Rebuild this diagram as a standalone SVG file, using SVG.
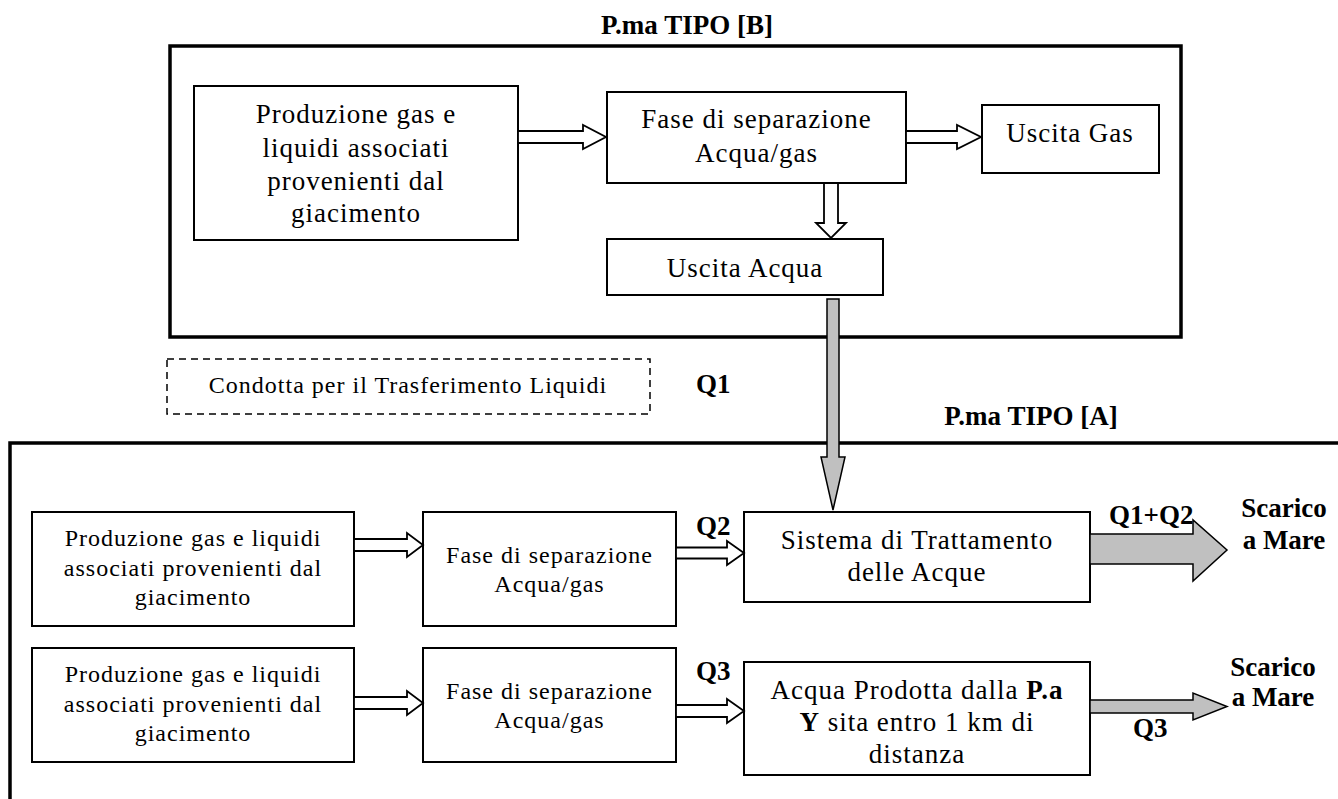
<svg xmlns="http://www.w3.org/2000/svg" width="1338" height="799" viewBox="0 0 1338 799">
<style>
.frame{fill:none;stroke:#000;stroke-width:3.5}
.box{fill:#fff;stroke:#000;stroke-width:2}
.dash{fill:#fff;stroke:#000;stroke-width:1.5;stroke-dasharray:7 5}
.hollow{fill:#fff;stroke:#000;stroke-width:1.8;stroke-linejoin:miter}
.gray{fill:#c0c0c0;stroke:#000;stroke-width:1.5;stroke-linejoin:miter}
.s{font-family:"Liberation Serif","Times New Roman",serif;font-size:24px;letter-spacing:1px;text-anchor:middle;fill:#000}
.b{font-family:"Liberation Serif","Times New Roman",serif;font-size:27px;letter-spacing:1px;text-anchor:middle;fill:#000}
.l{font-family:"Liberation Serif","Times New Roman",serif;font-size:27px;font-weight:bold;fill:#000}
.bold{font-weight:bold}
</style>
<rect width="1338" height="799" fill="#fff"/>

<g id="platform-B">
<rect class="frame" x="170" y="46" width="1011" height="291"/>
<text class="l" x="687" y="34" text-anchor="middle">P.ma TIPO [B]</text>
</g>

<g id="platform-A">
<path class="frame" d="M10,801 V443 H1340"/>
<text class="l" x="1031" y="425" text-anchor="middle">P.ma TIPO [A]</text>
</g>

<g id="b-produzione">
<rect class="box" x="194" y="86" width="324" height="154"/>
<text class="b" x="356" y="123">Produzione gas e</text>
<text class="b" x="356" y="157">liquidi associati</text>
<text class="b" x="356" y="190">provenienti dal</text>
<text class="b" x="356" y="222">giacimento</text>
</g>

<g id="b-separazione">
<rect class="box" x="607" y="92" width="299" height="91"/>
<text class="b" x="756.5" y="128">Fase di separazione</text>
<text class="b" x="756.5" y="162">Acqua/gas</text>
</g>

<g id="b-uscita-gas">
<rect class="box" x="982" y="105" width="177" height="68"/>
<text class="b" x="1070" y="142">Uscita Gas</text>
</g>

<g id="b-uscita-acqua">
<rect class="box" x="607" y="239" width="276" height="56"/>
<text class="b" x="745" y="277">Uscita Acqua</text>
</g>

<g id="condotta">
<rect class="dash" x="167" y="359" width="483" height="55"/>
<text class="s" x="408" y="393">Condotta per il Trasferimento Liquidi</text>
</g>

<g id="a1-produzione">
<rect class="box" x="32" y="512" width="322" height="114"/>
<text class="s" x="193" y="546">Produzione gas e liquidi</text>
<text class="s" x="193" y="576">associati provenienti dal</text>
<text class="s" x="193" y="605">giacimento</text>
</g>

<g id="a1-separazione">
<rect class="box" x="423" y="512" width="253" height="114"/>
<text class="s" x="549.5" y="563">Fase di separazione</text>
<text class="s" x="549.5" y="592">Acqua/gas</text>
</g>

<g id="a-trattamento">
<rect class="box" x="744" y="512" width="346" height="90"/>
<text class="b" x="917" y="549">Sistema di Trattamento</text>
<text class="b" x="917" y="581">delle Acque</text>
</g>

<g id="a2-produzione">
<rect class="box" x="32" y="648" width="322" height="114"/>
<text class="s" x="193" y="682">Produzione gas e liquidi</text>
<text class="s" x="193" y="712">associati provenienti dal</text>
<text class="s" x="193" y="741">giacimento</text>
</g>

<g id="a2-separazione">
<rect class="box" x="423" y="648" width="253" height="114"/>
<text class="s" x="549.5" y="699">Fase di separazione</text>
<text class="s" x="549.5" y="728">Acqua/gas</text>
</g>

<g id="a-acqua-prodotta">
<rect class="box" x="744" y="662" width="346" height="113"/>
<text class="b" x="917" y="699">Acqua Prodotta dalla <tspan class="bold">P.a</tspan></text>
<text class="b" x="917" y="731"><tspan class="bold">Y</tspan> sita entro 1 km di</text>
<text class="b" x="917" y="763">distanza</text>
</g>

<g id="connectors">
<path class="hollow" d="M518,131 H583 V125 L606,137 L583,149 V143 H518 Z"/>
<path class="hollow" d="M906,131 H957 V125 L981,137 L957,149 V143 H906 Z"/>
<path class="hollow" d="M824,183 V223 H816 L831,238 L846,223 H838 V183 Z"/>
<path class="gray" d="M827,299 V457 H821 L833,510 L845,457 H839 V299 Z"/>
<path class="hollow" d="M354,539 H407 V533 L423,545 L407,557 V551 H354 Z"/>
<path class="hollow" d="M676,547.5 H727 V541 L744,553 L727,565 V558.5 H676 Z"/>
<path class="hollow" d="M354,697 H407 V691 L423,703 L407,715 V709 H354 Z"/>
<path class="hollow" d="M676,705 H727 V699 L744,711 L727,723 V717 H676 Z"/>
<path class="gray" d="M1090,534 H1193 V520 L1227,550 L1193,581 V564 H1090 Z"/>
<path class="gray" d="M1090,700 H1193 V693 L1227,706.5 L1193,720 V713 H1090 Z"/>
</g>

<g id="labels">
<text class="l" x="696" y="393">Q1</text>
<text class="l" x="696" y="535">Q2</text>
<text class="l" x="696" y="680">Q3</text>
<text class="l" x="1109" y="524">Q1+Q2</text>
<text class="l" x="1284" y="517" text-anchor="middle">Scarico</text>
<text class="l" x="1284" y="549" text-anchor="middle">a Mare</text>
<text class="l" x="1273" y="676" text-anchor="middle">Scarico</text>
<text class="l" x="1273" y="706" text-anchor="middle">a Mare</text>
<text class="l" x="1133" y="737">Q3</text>
</g>
</svg>
